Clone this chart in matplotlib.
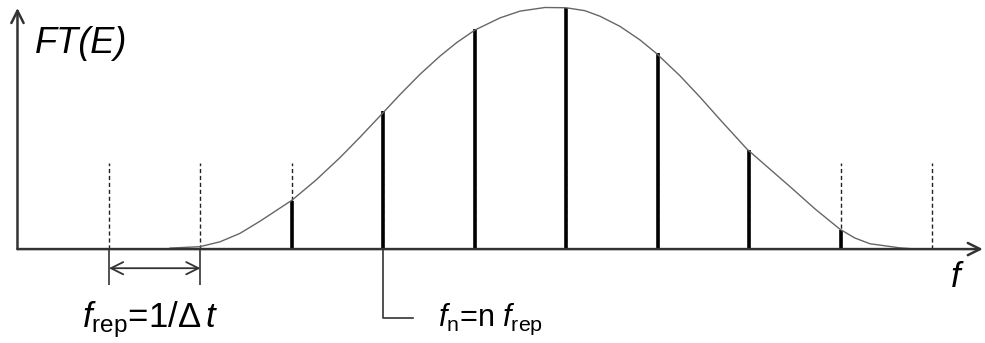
import matplotlib.pyplot as plt
import numpy as np

plt.rcParams['font.family'] = ['Liberation Sans', 'DejaVu Sans']
plt.rcParams['mathtext.fontset'] = 'custom'
plt.rcParams['mathtext.rm'] = 'Liberation Sans'
plt.rcParams['mathtext.it'] = 'Liberation Sans:italic'

# comb teeth at n = 0..9 (units of f_rep), heights relative to the envelope peak
comb_n = [0, 1, 2, 3, 4, 5, 6, 7, 8, 9]
comb_amp = [0.0, 0.0, 0.20, 0.57, 0.91, 0.995, 0.81, 0.41, 0.08, 0.0]

# spectral envelope FT(E)
env_n = [0.667, 0.995, 1.213, 1.432, 1.650, 2.000, 2.262, 2.525, 2.743, 2.995,
         3.180, 3.399, 3.617, 3.800, 4.000, 4.273, 4.492, 4.765, 4.995, 5.200,
         5.366, 5.585, 5.800, 5.978, 6.240, 6.459, 6.678, 6.973, 7.224, 7.443,
         7.716, 7.989, 8.150, 8.317, 8.645, 8.754]
env_amp = [0.004, 0.010, 0.030, 0.065, 0.115, 0.202, 0.285, 0.378, 0.462, 0.563,
           0.638, 0.722, 0.797, 0.853, 0.905, 0.955, 0.983, 0.998, 0.997, 0.985,
           0.962, 0.920, 0.865, 0.810, 0.716, 0.628, 0.535, 0.413, 0.330, 0.258,
           0.166, 0.082, 0.046, 0.022, 0.005, 0.002]

ref_height = 0.355  # dashed guide height for each comb position

fig = plt.figure(figsize=(9.85, 3.43), dpi=100)
ax = fig.add_axes([0, 0, 1, 1])
ax.set_xlim(-1.191, 9.574)
ax.set_ylim(-0.388, 1.029)
ax.axis('off')

# axes with open arrow heads
ax.annotate('', xy=(9.55, 0), xytext=(-1.0, 0),
            arrowprops=dict(arrowstyle='->', color='#333333', lw=1.8, mutation_scale=22,
                            shrinkA=0, shrinkB=0))
ax.annotate('', xy=(-1.0, 0.996), xytext=(-1.0, 0),
            arrowprops=dict(arrowstyle='->', color='#333333', lw=1.8, mutation_scale=22,
                            shrinkA=0, shrinkB=0))

# dashed guides, then the comb on top
ax.vlines(comb_n, 0, ref_height, colors='#222222', linestyles=(0, (3, 2)), lw=1.0)
ax.vlines(comb_n, 0, comb_amp, colors='black', lw=2.6)

ax.plot(env_n, env_amp, color='#666666', lw=1.0)

# spacing marker between first two teeth
ax.vlines([0, 1], -0.149, 0, colors='#333333', lw=1.2)
ax.annotate('', xy=(1, -0.079), xytext=(0, -0.079),
            arrowprops=dict(arrowstyle='<->', color='#333333', lw=1.3, mutation_scale=22,
                            shrinkA=0, shrinkB=0))

# leader from tooth n=3
ax.plot([3, 3, 3.32], [0, -0.285, -0.285], color='#333333', lw=1.2)

ax.text(-0.81, 0.851, 'FT(E)', fontsize=26, style='italic', va='center', ha='left')
ax.text(9.27, -0.116, r'$f$', fontsize=25, va='center', ha='center')
ax.text(-0.295, -0.29, r'$f_{\mathrm{rep}}$=1/$\Delta\,t$', fontsize=25,
        va='center', ha='left')
ax.text(3.6, -0.29, r'$f_{\mathrm{n}}$=n $f_{\mathrm{rep}}$', fontsize=22,
        va='center', ha='left')

fig.savefig('out.png', dpi=100)
